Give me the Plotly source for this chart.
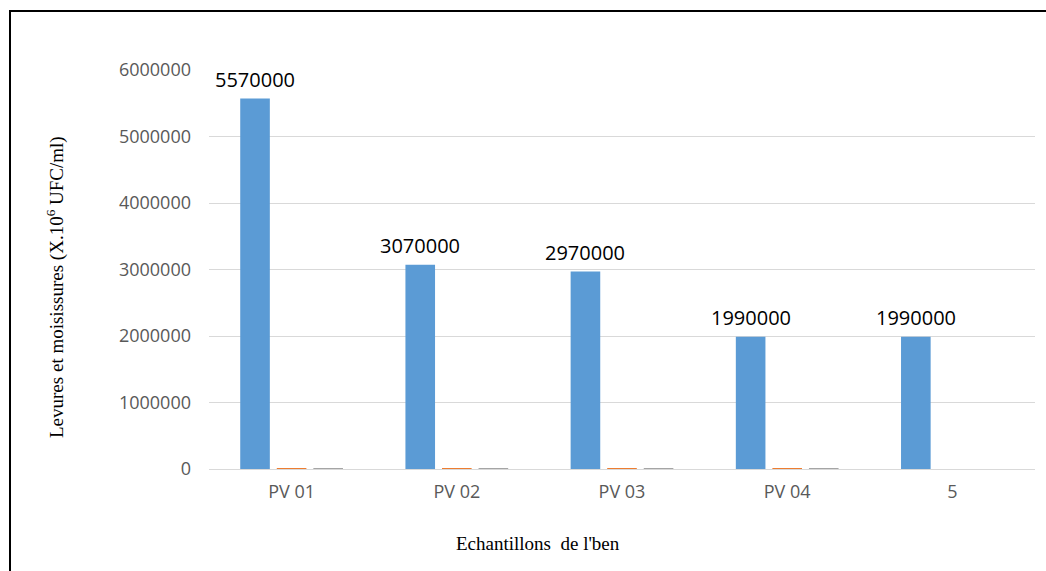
import plotly.graph_objects as go

# Echantillons et dénombrements (levures et moisissures)
categories = ["PV 01", "PV 02", "PV 03", "PV 04", "5"]
serie_1 = [5570000, 3070000, 2970000, 1990000, 1990000]
serie_2 = [15000, 15000, 15000, 15000, 0]
serie_3 = [15000, 15000, 15000, 15000, 0]
y_ticks = [0, 1000000, 2000000, 3000000, 4000000, 5000000, 6000000]

W, H = 1046, 571
L, R, T, B = 209, 11, 70, 102
plot_w = W - L - R
plot_h = H - T - B

tick_font = dict(family="Open Sans", size=18, color="#595959")
title_font = dict(family="Liberation Serif", size=19, color="#000000")

fig = go.Figure()
for vals, color in [(serie_1, "#5B9BD5"), (serie_2, "#ED7D31"), (serie_3, "#A5A5A5")]:
    fig.add_trace(go.Bar(x=categories, y=vals, marker=dict(color=color, line=dict(width=0)),
                         showlegend=False, hoverinfo="skip"))

# value labels centred above the first series
slot_px = plot_w / len(categories) * (1 - 0.336) / 3
annotations = []
for i, v in enumerate(serie_1):
    annotations.append(dict(x=i, y=v, xref="x", yref="y", text=f"{v}", showarrow=False,
                            xshift=-slot_px, yshift=19, yanchor="middle",
                            font=dict(family="Open Sans", size=20, color="#000000")))

def px_x(p):
    return (p - L) / plot_w

def px_y(p):
    return (H - B - p) / plot_h

annotations.append(dict(x=px_x(538), y=px_y(543), xref="paper", yref="paper",
                        text="Echantillons  de l'ben", showarrow=False,
                        xanchor="center", yanchor="middle", font=title_font))
annotations.append(dict(x=px_x(55), y=px_y(287), xref="paper", yref="paper",
                        text="Levures et moisissures (X.10<sup>6</sup> UFC/ml)", showarrow=False,
                        textangle=-90, xanchor="center", yanchor="middle", font=title_font))

fig.update_layout(
    width=W, height=H,
    margin=dict(l=L, r=R, t=T, b=B, pad=0),
    paper_bgcolor="white", plot_bgcolor="white",
    barmode="group", bargap=0.336, bargroupgap=0.19,
    annotations=annotations,
    shapes=[dict(type="rect", xref="paper", yref="paper",
                 x0=px_x(10), x1=px_x(1048), y0=px_y(578), y1=px_y(11),
                 line=dict(color="#000000", width=2), fillcolor="rgba(0,0,0,0)", layer="above")],
    xaxis=dict(type="category", range=[-0.5, len(categories) - 0.5],
               showgrid=False, showline=True, linecolor="#D9D9D9", linewidth=1,
               ticks="", tickfont=tick_font, ticklabelstandoff=6, zeroline=False),
    yaxis=dict(range=[0, 6000000], tickvals=y_ticks, ticktext=[str(t) for t in y_ticks],
               showgrid=True, gridcolor="#D9D9D9", gridwidth=1, zeroline=False,
               showline=False, ticks="", tickfont=tick_font, ticklabelstandoff=17),
)

fig.write_html("out.html")
